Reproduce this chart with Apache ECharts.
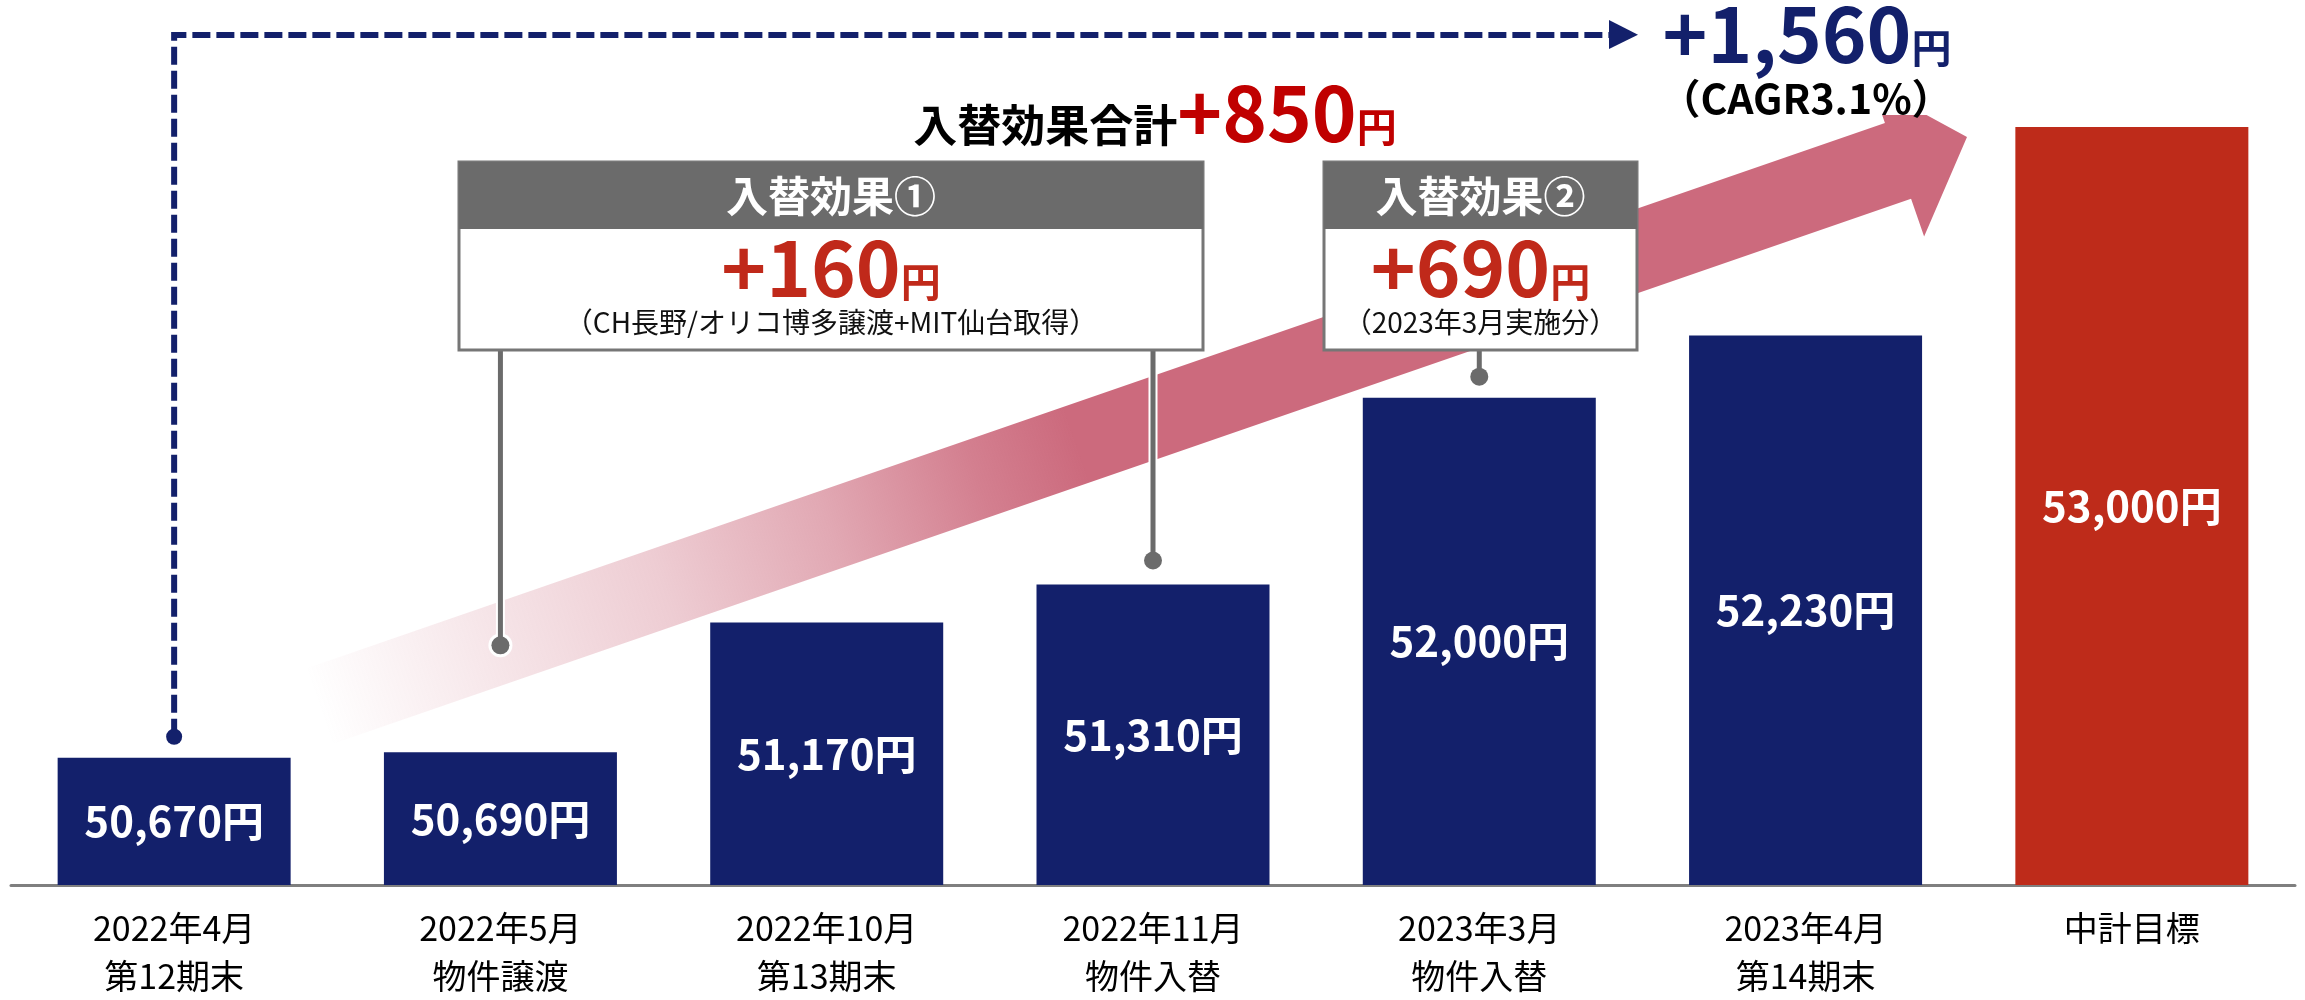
<!DOCTYPE html>
<html lang="ja">
<head>
<meta charset="utf-8">
<title>入替効果</title>
<script src="https://cdn.jsdelivr.net/npm/echarts@6/dist/echarts.min.js"></script>
<style>
  html, body { margin: 0; padding: 0; background: #fff; }
  #chart { width: 2305px; height: 1000px; }
</style>
</head>
<body>
<div id="chart"></div>
<script>
// data
const categories = [
  "2022年4月\n第12期末",
  "2022年5月\n物件譲渡",
  "2022年10月\n第13期末",
  "2022年11月\n物件入替",
  "2023年3月\n物件入替",
  "2023年4月\n第14期末",
  "中計目標",
]
const values = [50670, 50690, 51170, 51310, 52000, 52230, 53000]

const totalGrowth = "+1,560"
const cagrText = "（CAGR3.1%）"
const totalEffectTitle = "入替効果合計"
const totalEffect = "+850"
const effectTitles = ["入替効果①", "入替効果②"]
const effectAmounts = ["+160", "+690"]
const effectNotes = ["（CH長野/オリコ博多譲渡+MIT仙台取得）", "（2023年3月実施分）"]

// styles
const FONT = '"Noto Sans CJK JP", "Noto Sans", sans-serif'
const NAVY = "#13206B"
const RED = "#BE2B1A"
const PINK = "204,106,125"
const GRAY = "#6B6B6B"

// callout layout (pixels) and which bars the pins point to
const BOX_TOP = 162
const HEAD_H = 67
const BOX_BOTTOM = 350
const callouts = [
  { left: 459, width: 744, pins: [{ cat: 1, lift: 107 }, { cat: 3, lift: 24 }] },
  { left: 1324, width: 313, pins: [{ cat: 4, lift: 21 }] },
]

const chart = echarts.init(document.getElementById("chart"))

const fmt = (v) => String(v).replace(/\B(?=(\d{3})+(?!\d))/g, ",")

chart.setOption({
  animation: false,
  grid: { left: 11, right: 10, top: 127, bottom: 108 },
  xAxis: {
    type: "category",
    data: categories,
    axisTick: { show: false },
    axisLine: { lineStyle: { color: "#7F7F7F", width: 3 } },
    axisLabel: { color: "#000", fontSize: 34, lineHeight: 48, margin: 19, fontFamily: FONT },
  },
  yAxis: { type: "value", min: 50200, max: 53000, show: false, splitLine: { show: false } },
  series: [{
    type: "bar",
    data: values,
    barWidth: 233,
    itemStyle: { color: (p) => (p.dataIndex === values.length - 1 ? RED : NAVY) },
    label: {
      show: true,
      position: "inside",
      formatter: (p) => fmt(p.value) + "円",
      color: "#fff",
      fontSize: 42,
      fontWeight: "bold",
      fontFamily: FONT,
    },
  }],
})

function buildGraphic() {
  const at = (i, v) => chart.convertToPixel({ gridIndex: 0 }, [i, v])
  const g = []

  // big gradient arrow
  const C = [318.5, 706.5]
  const T = [1967, 137]
  const len = Math.hypot(T[0] - C[0], T[1] - C[1])
  const d = [(T[0] - C[0]) / len, (T[1] - C[1]) / len]
  const p = [-d[1], d[0]]
  const w = 40, headLen = 73, headW = 80
  const neck = [T[0] - headLen * d[0], T[1] - headLen * d[1]]
  const off = (pt, k) => [pt[0] + k * p[0], pt[1] + k * p[1]]
  g.push({
    type: "polygon",
    z: 1,
    shape: {
      points: [off(C, -w), off(neck, -w), off(neck, -headW), T, off(neck, headW), off(neck, w), off(C, w)],
    },
    style: {
      fill: new echarts.graphic.LinearGradient(C[0], C[1], T[0], T[1], [
        { offset: 0, color: `rgba(${PINK},0)` },
        { offset: 0.11, color: `rgba(${PINK},0.18)` },
        { offset: 0.21, color: `rgba(${PINK},0.34)` },
        { offset: 0.31, color: `rgba(${PINK},0.58)` },
        { offset: 0.4, color: `rgba(${PINK},0.86)` },
        { offset: 0.46, color: `rgba(${PINK},1)` },
        { offset: 1, color: `rgba(${PINK},1)` },
      ], true),
    },
  })

  // dashed growth line from first bar
  const first = at(0, values[0])
  const dotY = first[1] - 21
  g.push({
    type: "polyline",
    z: 5,
    shape: { points: [[first[0], dotY], [first[0], 35], [1612, 35]] },
    style: { stroke: NAVY, lineWidth: 6, lineDash: [18, 6], fill: null },
  })
  g.push({ type: "circle", z: 5, shape: { cx: first[0], cy: dotY, r: 8 }, style: { fill: NAVY } })
  g.push({ type: "polygon", z: 5, shape: { points: [[1609, 20], [1638, 34.7], [1609, 49]] }, style: { fill: NAVY } })

  // +1,560円 / CAGR
  g.push({
    type: "text", z: 6,
    style: {
      x: 1807, y: 72, align: "center", verticalAlign: "bottom",
      text: `{n|${totalGrowth}}{u|円}`,
      rich: {
        n: { fontSize: 76, lineHeight: 76, fontWeight: "bold", fill: NAVY, fontFamily: FONT, verticalAlign: "bottom" },
        u: { fontSize: 40, lineHeight: 40, fontWeight: "bold", fill: NAVY, fontFamily: FONT, verticalAlign: "bottom", padding: [0, 0, 4, 0] },
      },
    },
  })
  g.push({
    type: "text", z: 6,
    style: {
      x: 1806, y: 98, align: "center", verticalAlign: "middle",
      text: cagrText, fontSize: 41, fontWeight: "bold", fill: "#000", fontFamily: FONT,
      backgroundColor: "#fff", padding: [0, 0, 0, 0], lineHeight: 34,
    },
  })

  // 入替効果合計 +850円
  g.push({
    type: "text", z: 6,
    style: {
      x: 1155, y: 151, align: "center", verticalAlign: "bottom",
      text: `{t|${totalEffectTitle}}{n|${totalEffect}}{u|円}`,
      rich: {
        t: { fontSize: 44, lineHeight: 44, fontWeight: "bold", fill: "#000", fontFamily: FONT, verticalAlign: "bottom", padding: [0, 0, 4, 0] },
        n: { fontSize: 76, lineHeight: 76, fontWeight: "bold", fill: "#C00000", fontFamily: FONT, verticalAlign: "bottom" },
        u: { fontSize: 40, lineHeight: 40, fontWeight: "bold", fill: "#C00000", fontFamily: FONT, verticalAlign: "bottom", padding: [0, 0, 4, 0] },
      },
    },
  })

  // callouts
  callouts.forEach((c, k) => {
    c.pins.forEach((pin) => {
      const top = at(pin.cat, values[pin.cat])
      const y2 = top[1] - pin.lift
      g.push({ type: "line", z: 7, shape: { x1: top[0], y1: BOX_BOTTOM, x2: top[0], y2 }, style: { stroke: "#fff", lineWidth: 9 } })
      g.push({ type: "circle", z: 7, shape: { cx: top[0], cy: y2, r: 12 }, style: { fill: "#fff" } })
      g.push({ type: "line", z: 8, shape: { x1: top[0], y1: BOX_BOTTOM, x2: top[0], y2 }, style: { stroke: GRAY, lineWidth: 5 } })
      g.push({ type: "circle", z: 8, shape: { cx: top[0], cy: y2, r: 9 }, style: { fill: GRAY } })
    })
    const cx = c.left + c.width / 2
    g.push({
      type: "rect", z: 9,
      shape: { x: c.left, y: BOX_TOP, width: c.width, height: BOX_BOTTOM - BOX_TOP },
      style: { fill: "#fff", stroke: "#767676", lineWidth: 3 },
    })
    g.push({
      type: "rect", z: 9,
      shape: { x: c.left, y: BOX_TOP, width: c.width, height: HEAD_H },
      style: { fill: GRAY },
    })
    g.push({
      type: "text", z: 10,
      style: {
        x: cx, y: BOX_TOP + HEAD_H / 2 + 1, align: "center", verticalAlign: "middle",
        text: effectTitles[k], fontSize: 42, fontWeight: "bold", fill: "#fff", fontFamily: FONT,
      },
    })
    g.push({
      type: "text", z: 10,
      style: {
        x: cx, y: 306, align: "center", verticalAlign: "bottom",
        text: `{n|${effectAmounts[k]}}{u|円}`,
        rich: {
          n: { fontSize: 76, lineHeight: 76, fontWeight: "bold", fill: "#C0291A", fontFamily: FONT, verticalAlign: "bottom" },
          u: { fontSize: 40, lineHeight: 40, fontWeight: "bold", fill: "#C0291A", fontFamily: FONT, verticalAlign: "bottom", padding: [0, 0, 4, 0] },
        },
      },
    })
    g.push({
      type: "text", z: 10,
      style: {
        x: cx, y: 322, align: "center", verticalAlign: "middle",
        text: effectNotes[k], fontSize: 28, fill: "#111", fontFamily: FONT,
      },
    })
  })

  return g
}

chart.setOption({ graphic: { elements: buildGraphic() } })
</script>
</body>
</html>
